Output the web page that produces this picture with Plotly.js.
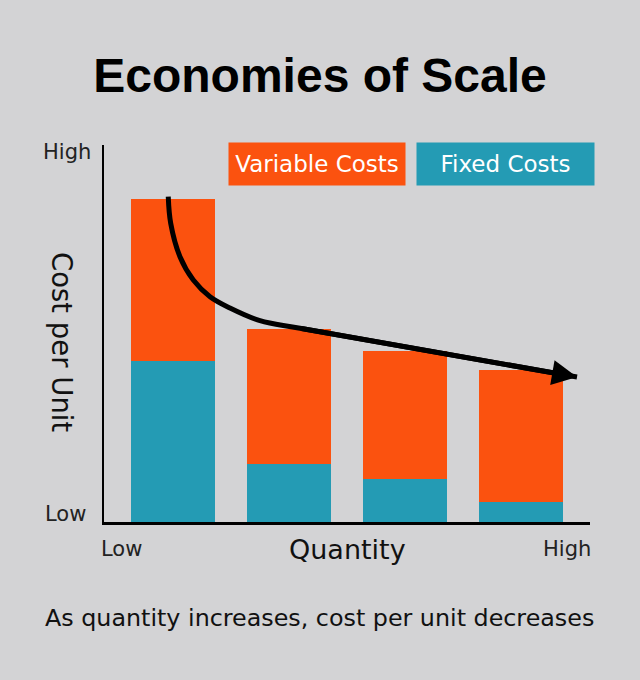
<!DOCTYPE html>
<html>
<head>
<meta charset="utf-8">
<script src="https://cdn.plot.ly/plotly-3.0.1.min.js"></script>
<style>html,body{margin:0;padding:0;background:#d3d3d5;}#chart{width:640px;height:680px;}</style>
</head>
<body>
<div id="chart"></div>
<script>
// ---- data ----
const quantities = [0, 1, 2, 3];
const fixedCosts = [42.7, 15.4, 11.4, 5.3];
const variableCosts = [43.0, 35.8, 34.0, 35.0];
const seriesNames = ['Variable Costs', 'Fixed Costs'];
const arrowX = [-0.041, -0.020, 0.060, 0.175, 0.319, 0.491, 0.750, 1.095, 3.483];
const arrowY = [86.29, 79.23, 70.37, 64.19, 59.76, 56.76, 53.40, 51.38, 38.46];
const xTickLabels = ['Low', 'High'];
const yTickLabels = ['Low', 'High'];
const titleText = 'Economies of Scale';
const xTitle = 'Quantity';
const yTitle = 'Cost per Unit';
const caption = 'As quantity increases, cost per unit decreases';

const ORANGE = '#fb520f';
const TEAL = '#249bb4';
const BG = '#d3d3d5';
const FONT = '"DejaVu Sans", sans-serif';

const nA = arrowX.length;
const traces = [
  {type: 'bar', x: quantities, y: fixedCosts, name: seriesNames[1],
   marker: {color: TEAL, line: {width: 0}}, width: 0.724, hoverinfo: 'skip'},
  {type: 'bar', x: quantities, y: variableCosts, name: seriesNames[0],
   marker: {color: ORANGE, line: {width: 0}}, width: 0.724, hoverinfo: 'skip'},
  {type: 'scatter', mode: 'lines', x: arrowX, y: arrowY,
   line: {color: '#000', width: 5, shape: 'spline', smoothing: 1, backoff: 14},
   hoverinfo: 'skip', showlegend: false}
];

const layout = {
  width: 640, height: 680,
  paper_bgcolor: BG, plot_bgcolor: BG,
  margin: {l: 104, r: 50, t: 145, b: 158},
  barmode: 'stack',
  showlegend: false,
  font: {family: FONT, color: '#111'},
  title: {text: titleText, x: 0.5, xanchor: 'center', y: 0.89, yanchor: 'middle',
          font: {family: '"Liberation Sans", Arial, sans-serif', size: 48, color: '#000', weight: 'bold'}},
  xaxis: {range: [-0.595, 3.595], showline: true, linecolor: '#000', linewidth: 2.5,
          showgrid: false, zeroline: false, showticklabels: false, ticks: '', fixedrange: true},
  yaxis: {range: [0, 100], showline: true, linecolor: '#000', linewidth: 2.5,
          showgrid: false, zeroline: false, showticklabels: false, ticks: '', fixedrange: true},
  annotations: [
    {text: '', x: arrowX[nA - 1], y: arrowY[nA - 1], ax: arrowX[nA - 2], ay: arrowY[nA - 2],
     xref: 'x', yref: 'y', axref: 'x', ayref: 'y', showarrow: true,
     arrowhead: 2, arrowsize: 1.0, arrowwidth: 5, arrowcolor: '#000', standoff: 0, startstandoff: 0},
    {text: yTickLabels[1], xref: 'paper', yref: 'paper', x: -0.023, y: 0.981, xanchor: 'right', yanchor: 'middle',
     showarrow: false, font: {size: 21, color: '#222'}},
    {text: yTickLabels[0], xref: 'paper', yref: 'paper', x: -0.033, y: 0.021, xanchor: 'right', yanchor: 'middle',
     showarrow: false, font: {size: 21, color: '#222'}},
    {text: xTickLabels[0], xref: 'paper', yref: 'paper', x: 0.037, y: -0.072, xanchor: 'center', yanchor: 'middle',
     showarrow: false, font: {size: 21, color: '#222'}},
    {text: xTickLabels[1], xref: 'paper', yref: 'paper', x: 0.953, y: -0.072, xanchor: 'center', yanchor: 'middle',
     showarrow: false, font: {size: 21, color: '#222'}},
    {text: xTitle, xref: 'paper', yref: 'paper', x: 0.502, y: -0.072, xanchor: 'center', yanchor: 'middle',
     showarrow: false, font: {size: 27, color: '#111'}},
    {text: yTitle, xref: 'paper', yref: 'paper', x: -0.086, y: 0.477, xanchor: 'center', yanchor: 'middle',
     textangle: 90, showarrow: false, font: {size: 27.5, color: '#111'}},
    {text: caption, xref: 'paper', yref: 'paper', x: 0.444, y: -0.255, xanchor: 'center', yanchor: 'middle',
     showarrow: false, font: {size: 23.8, color: '#111'}},
    {text: seriesNames[0], xref: 'paper', yref: 'paper', x: 0.438, y: 0.950, xanchor: 'center', yanchor: 'middle',
     width: 172, height: 38, bgcolor: ORANGE, borderpad: 2, showarrow: false, font: {size: 23, color: '#fff'}},
    {text: seriesNames[1], xref: 'paper', yref: 'paper', x: 0.827, y: 0.950, xanchor: 'center', yanchor: 'middle',
     width: 173, height: 38, bgcolor: TEAL, borderpad: 2, showarrow: false, font: {size: 23, color: '#fff'}}
  ]
};

Plotly.newPlot('chart', traces, layout, {displayModeBar: false, staticPlot: true});
</script>
</body>
</html>
